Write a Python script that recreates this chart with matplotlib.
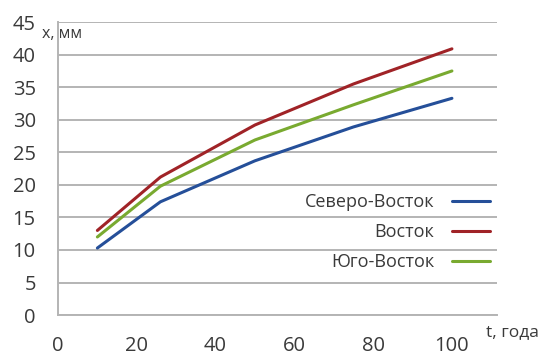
"""Рост x(t) по направлениям: Северо-Восток, Восток, Юго-Восток."""
import matplotlib
matplotlib.use("Agg")
import matplotlib.pyplot as plt

# данные
t_years = [10, 26, 50, 75, 100]
north_east = [10.3, 17.4, 23.7, 28.9, 33.3]
east = [13.0, 21.2, 29.2, 35.5, 40.9]
south_east = [12.0, 19.8, 26.9, 32.3, 37.5]

series_names = ["Северо-Восток", "Восток", "Юго-Восток"]
series_colors = ["#254f99", "#a02327", "#79aa30"]
x_ticks = [0, 20, 40, 60, 80, 100]
y_ticks = [0, 5, 10, 15, 20, 25, 30, 35, 40, 45]

plt.rcParams["font.family"] = ["Open Sans", "DejaVu Sans"]

fig = plt.figure(figsize=(5.47, 3.63), dpi=100)
ax = fig.add_axes([0.106, 0.132, 0.803, 0.807])

for vals, name, col in zip([north_east, east, south_east], series_names, series_colors):
    ax.plot(t_years, vals, color=col, lw=2.2, label=name, solid_capstyle="round")

ax.set_xlim(0, 111.5)
ax.set_ylim(0, 45)
ax.set_xticks(x_ticks)
ax.set_yticks(y_ticks)
ax.tick_params(axis="both", length=0, labelsize=14.5, colors="#3a3a3a")
ax.tick_params(axis="x", pad=15)
ax.tick_params(axis="y", pad=16)

ax.grid(axis="y", color="#b4b4b4", lw=1.4)
ax.set_axisbelow(True)
for s in ["top", "right"]:
    ax.spines[s].set_visible(False)
for s in ["left", "bottom"]:
    ax.spines[s].set_color("#b4b4b4")
    ax.spines[s].set_linewidth(1.4)

leg = ax.legend(loc="upper right", bbox_to_anchor=(1.0, 0.44), frameon=False,
                markerfirst=False, fontsize=13, handlelength=2.1,
                labelspacing=0.66, handletextpad=1.0, borderaxespad=0.0)
for txt in leg.get_texts():
    txt.set_color("#3a3a3a")

fig.text(0.077, 0.905, "x, мм", fontsize=11.5, color="#3a3a3a", va="center")
fig.text(0.888, 0.085, "t, года", fontsize=12.5, color="#3a3a3a", va="center")

fig.savefig("out.png", dpi=100)
